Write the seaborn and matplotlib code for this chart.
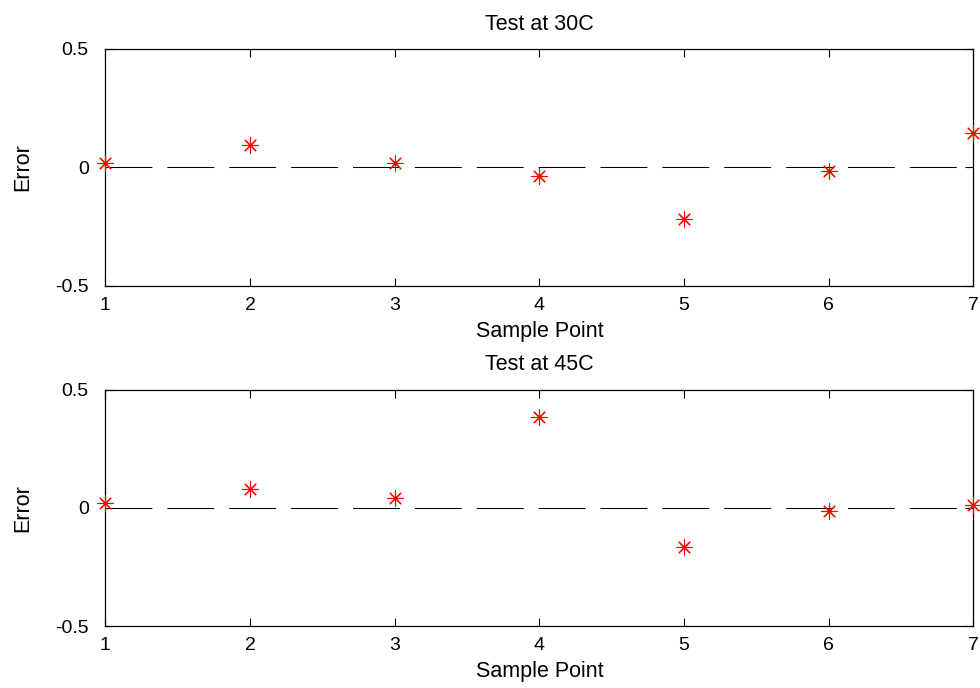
import matplotlib
matplotlib.use("Agg")
import matplotlib.pyplot as plt
import seaborn as sns
import pandas as pd

sample_points = [1, 2, 3, 4, 5, 6, 7]
error_30c = [0.020, 0.093, 0.020, -0.037, -0.219, -0.015, 0.144]
error_45c = [0.021, 0.079, 0.044, 0.385, -0.166, -0.014, 0.014]
titles = ["Test at 30C", "Test at 45C"]
x_ticks = [1, 2, 3, 4, 5, 6, 7]
y_ticks = [-0.5, 0, 0.5]
y_tick_labels = ["-0.5", "0", "0.5"]

sns.set_theme(style="white")
plt.rcParams['font.family'] = ['Liberation Sans', 'DejaVu Sans']

fig = plt.figure(figsize=(9.8, 6.88), dpi=100)
positions = [[0.1075, 0.5847, 0.8857, 0.3441], [0.1075, 0.0897, 0.8857, 0.3439]]

for pos, title, err in zip(positions, titles, [error_30c, error_45c]):
    ax = fig.add_axes(pos)
    df = pd.DataFrame({"x": sample_points, "y": err})
    sns.lineplot(x=[sample_points[0], sample_points[-1]], y=[0, 0], ax=ax,
                 color="black", linewidth=0.75, dashes=False)
    ax.lines[-1].set_dashes((45, 14.4))
    sns.scatterplot(data=df, x="x", y="y", ax=ax, marker=(8, 2, 0),
                    color="red", s=120, linewidth=0.8, clip_on=False, zorder=3)
    ax.set_xlim(1, 7)
    ax.set_ylim(-0.5, 0.5)
    ax.set_xticks(x_ticks)
    ax.set_xticklabels([str(v) for v in x_ticks])
    ax.set_yticks(y_ticks)
    ax.set_yticklabels(y_tick_labels)
    ax.tick_params(direction="in", length=6, width=0.8, top=True, right=True,
                   bottom=True, left=True, labelsize=14, colors="black")
    ax.tick_params(axis="x", pad=8)
    ax.tick_params(axis="y", pad=12)
    for s in ax.spines.values():
        s.set_color("black")
        s.set_linewidth(0.9)
    ax.set_title(title, fontsize=15.5, pad=14, color="black")
    ax.set_xlabel("Sample Point", fontsize=15.5, labelpad=5, color="black")
    ax.set_ylabel("Error", fontsize=15.5, labelpad=16, color="black")
    ax.grid(False)

fig.savefig("out.png", dpi=100, facecolor="white")
